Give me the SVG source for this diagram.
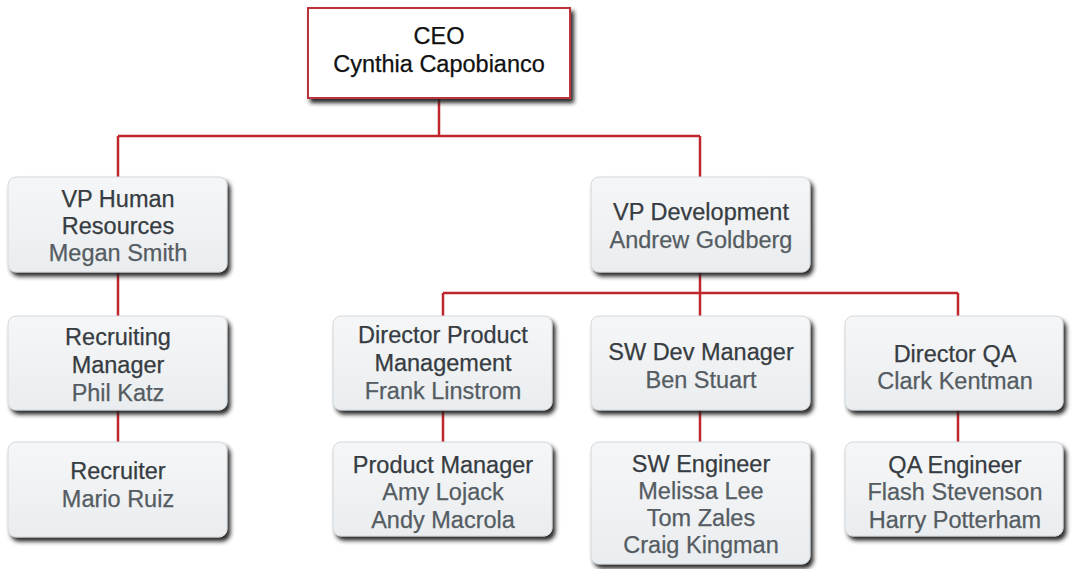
<svg xmlns="http://www.w3.org/2000/svg" width="1074" height="569" viewBox="0 0 1074 569">
<defs>
<filter id="sh" x="-10%" y="-10%" width="125%" height="135%">
<feDropShadow dx="3" dy="4" stdDeviation="2.2" flood-color="#1e1e1e" flood-opacity="0.95"/>
</filter>
<linearGradient id="g" x1="0" y1="0" x2="0" y2="1">
<stop offset="0" stop-color="#f5f6f8"/>
<stop offset="1" stop-color="#eaedef"/>
</linearGradient>
</defs>
<style>
.box{fill:url(#g);stroke:#d4d8db;stroke-width:1;filter:url(#sh)}
.ceo{fill:#ffffff;stroke:#b8343a;stroke-width:2;filter:url(#sh)}
.t{font-family:"Liberation Sans",Arial,sans-serif;font-size:23.5px;text-anchor:middle;fill:#363c41;stroke:#363c41;stroke-width:0.25}
.n{fill:#555c62;stroke:#555c62}
.ct{fill:#111111;stroke:#111111}
.c{stroke:#c0272d;stroke-width:2.5;fill:none}
</style>
<rect width="1074" height="569" fill="#ffffff"/>
<g id="connectors">
<path class="c" d="M439 98V136M118 136H700M118 136V177M700 136V177"/>
<path class="c" d="M700 272V293M443 293H958M443 293V316M700 293V316M958 293V316"/>
<path class="c" d="M118 272V316M118 410V442M443 410V442M700 410V442M958 410V442"/>
</g>
<g id="ceo">
<rect class="ceo" x="308" y="8" width="262" height="90"/>
<text class="t ct" x="439" y="44">CEO</text>
<text class="t ct" x="439" y="72">Cynthia Capobianco</text>
</g>
<g id="vp-hr">
<rect class="box" x="8" y="177" width="219" height="95" rx="8"/>
<text class="t" x="118" y="207">VP Human</text>
<text class="t" x="118" y="234">Resources</text>
<text class="t n" x="118" y="261">Megan Smith</text>
</g>
<g id="vp-dev">
<rect class="box" x="591" y="177" width="219" height="95" rx="8"/>
<text class="t" x="701" y="220">VP Development</text>
<text class="t n" x="701" y="248">Andrew Goldberg</text>
</g>
<g id="recruiting-manager">
<rect class="box" x="8" y="316" width="219" height="94" rx="8"/>
<text class="t" x="118" y="345">Recruiting</text>
<text class="t" x="118" y="373">Manager</text>
<text class="t n" x="118" y="401">Phil Katz</text>
</g>
<g id="director-pm">
<rect class="box" x="333" y="316" width="219" height="94" rx="8"/>
<text class="t" x="443" y="343">Director Product</text>
<text class="t" x="443" y="371">Management</text>
<text class="t n" x="443" y="399">Frank Linstrom</text>
</g>
<g id="sw-dev-manager">
<rect class="box" x="591" y="316" width="219" height="94" rx="8"/>
<text class="t" x="701" y="360">SW Dev Manager</text>
<text class="t n" x="701" y="388">Ben Stuart</text>
</g>
<g id="director-qa">
<rect class="box" x="845" y="316" width="218" height="94" rx="8"/>
<text class="t" x="955" y="362">Director QA</text>
<text class="t n" x="955" y="389">Clark Kentman</text>
</g>
<g id="recruiter">
<rect class="box" x="8" y="442" width="219" height="95" rx="8"/>
<text class="t" x="118" y="479">Recruiter</text>
<text class="t n" x="118" y="507">Mario Ruiz</text>
</g>
<g id="product-manager">
<rect class="box" x="333" y="442" width="219" height="94" rx="8"/>
<text class="t" x="443" y="473">Product Manager</text>
<text class="t n" x="443" y="500">Amy Lojack</text>
<text class="t n" x="443" y="528">Andy Macrola</text>
</g>
<g id="sw-engineer">
<rect class="box" x="591" y="442" width="219" height="122" rx="8"/>
<text class="t" x="701" y="472">SW Engineer</text>
<text class="t n" x="701" y="499">Melissa Lee</text>
<text class="t n" x="701" y="526">Tom Zales</text>
<text class="t n" x="701" y="553">Craig Kingman</text>
</g>
<g id="qa-engineer">
<rect class="box" x="845" y="442" width="218" height="94" rx="8"/>
<text class="t" x="955" y="473">QA Engineer</text>
<text class="t n" x="955" y="500">Flash Stevenson</text>
<text class="t n" x="955" y="528">Harry Potterham</text>
</g>
</svg>
